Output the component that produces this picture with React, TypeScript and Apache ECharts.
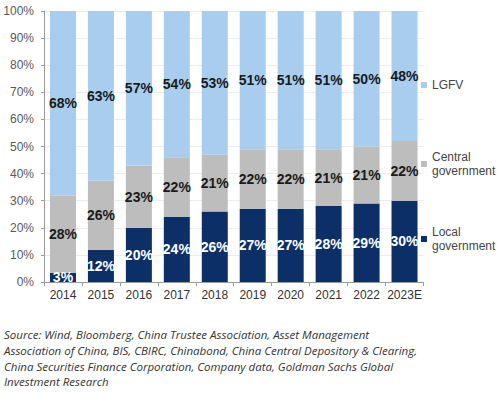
import React, { useEffect, useRef } from "react";
import * as echarts from "echarts";

const categories = ["2014", "2015", "2016", "2017", "2018", "2019", "2020", "2021", "2022", "2023E"];
const localGov = [3.4, 11.8, 20, 24, 26, 27, 27, 28, 29, 30];
const centralGov = [28.4, 25.6, 23, 22, 21, 22, 22, 21, 21, 22];
const lgfv = [68.2, 62.6, 57, 54, 53, 51, 51, 51, 50, 48];
const yTicks = [0, 10, 20, 30, 40, 50, 60, 70, 80, 90, 100];
const sourceLines = [
  "Source: Wind, Bloomberg, China Trustee Association, Asset Management",
  "Association of China, BIS, CBIRC, Chinabond, China Central Depository & Clearing,",
  "China Securities Finance Corporation, Company data, Goldman Sachs Global",
  "Investment Research",
];

const C_LGFV = "#a9cdee";
const C_CENTRAL = "#bdbdbd";
const C_LOCAL = "#0c2f68";

export default function App() {
  const ref = useRef<HTMLDivElement>(null);
  useEffect(() => {
    document.body.style.margin = "0";
    if (!ref.current) return;
    const chart = echarts.init(ref.current, null, { renderer: "svg" });
    const labelBase = {
      show: true,
      position: "inside" as const,
      formatter: (p: any) => Math.round(p.value) + "%",
      fontSize: 14,
      fontWeight: "bold" as const,
      fontFamily: "Liberation Sans, Arial, sans-serif",
    };
    const legendBase = {
      orient: "vertical" as const,
      icon: "rect",
      itemWidth: 6,
      itemHeight: 6,
      itemGap: 4,
      selectedMode: false,
      textStyle: {
        fontSize: 12,
        color: "#444",
        fontFamily: "Liberation Sans, Arial, sans-serif",
        lineHeight: 14,
      },
    };
    chart.setOption({
      animation: false,
      backgroundColor: "#fff",
      grid: { left: 44, right: 76.5, top: 11, bottom: 112 },
      legend: [
        { ...legendBase, data: ["LGFV"], left: 416, top: 73 },
        { ...legendBase, data: ["Central\ngovernment"], left: 416, top: 145 },
        { ...legendBase, data: ["Local\ngovernment"], left: 416, top: 220 },
      ],
      xAxis: {
        type: "category",
        data: categories,
        axisLine: { lineStyle: { color: "#9a9a9a" } },
        axisTick: { show: true, length: 4, lineStyle: { color: "#9a9a9a" } },
        axisLabel: {
          interval: 0,
          fontSize: 12,
          color: "#333",
          margin: 7,
          fontFamily: "Liberation Sans, Arial, sans-serif",
        },
      },
      yAxis: {
        type: "value",
        min: yTicks[0],
        max: yTicks[yTicks.length - 1],
        interval: 10,
        axisLine: { show: true, lineStyle: { color: "#9a9a9a" } },
        axisTick: { show: true, length: 3, lineStyle: { color: "#9a9a9a" } },
        splitLine: { show: true, lineStyle: { color: "#ececec", width: 1 } },
        axisLabel: {
          formatter: "{value}%",
          fontSize: 12,
          color: "#595959",
          margin: 10,
          fontFamily: "Liberation Sans, Arial, sans-serif",
        },
      },
      series: [
        {
          name: "Local\ngovernment",
          type: "bar",
          stack: "t",
          data: localGov,
          barWidth: 26,
          itemStyle: { color: C_LOCAL },
          label: { ...labelBase, color: "#ffffff" },
        },
        {
          name: "Central\ngovernment",
          type: "bar",
          stack: "t",
          data: centralGov,
          barWidth: 26,
          itemStyle: { color: C_CENTRAL },
          label: { ...labelBase, color: "#1a1a1a" },
        },
        {
          name: "LGFV",
          type: "bar",
          stack: "t",
          data: lgfv,
          barWidth: 26,
          itemStyle: { color: C_LGFV },
          label: { ...labelBase, color: "#1a1a1a" },
        },
      ],
      graphic: [
        {
          type: "text",
          left: 4,
          top: 327,
          style: {
            text: sourceLines.join("\n"),
            fontSize: 11.5,
            lineHeight: 15.7,
            fontStyle: "italic",
            fontFamily: "Open Sans, sans-serif",
            fill: "#333",
          },
        },
      ],
    });
    return () => chart.dispose();
  }, []);
  return <div ref={ref} style={{ width: 500, height: 394 }} />;
}
